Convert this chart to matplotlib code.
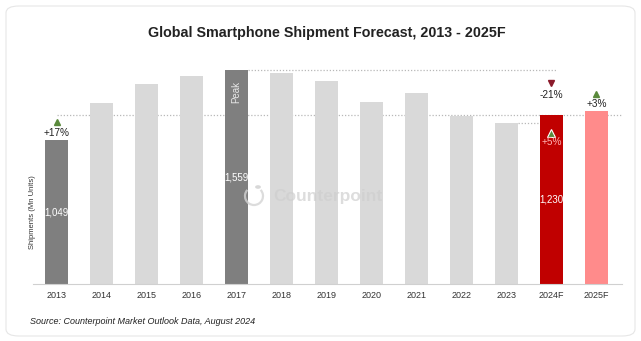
import matplotlib
matplotlib.use("Agg")
import matplotlib.pyplot as plt
from matplotlib.patches import FancyBboxPatch, Circle, Arc

plt.rcParams['font.family'] = ['Liberation Sans', 'DejaVu Sans']

years = ["2013", "2014", "2015", "2016", "2017", "2018", "2019", "2020",
         "2021", "2022", "2023", "2024F", "2025F"]
shipments = [1049, 1319, 1460, 1518, 1559, 1542, 1480, 1331, 1392, 1228, 1173, 1230, 1265]
value_labels = {0: "1,049", 4: "1,559", 11: "1,230"}
bar_colors = ["#7f7f7f", "#d9d9d9", "#d9d9d9", "#d9d9d9", "#7f7f7f", "#d9d9d9", "#d9d9d9",
              "#d9d9d9", "#d9d9d9", "#d9d9d9", "#d9d9d9", "#c00000", "#ff8b8b"]

W, H = 641, 341
fig = plt.figure(figsize=(W / 100, H / 100), dpi=100)
fig.patch.set_facecolor("white")

# rounded card behind everything
card = FancyBboxPatch((6 / W, 5 / H), 629 / W, 330 / H,
                      boxstyle="round,pad=0,rounding_size=0.02",
                      transform=fig.transFigure, facecolor="white",
                      edgecolor="#e6e6e6", linewidth=0.8, zorder=-5)
fig.add_artist(card)

ax = fig.add_axes([33 / W, (H - 284) / H, 589 / W, 224 / H])
ax.set_zorder(2)
ax.set_facecolor("none")
x = list(range(len(years)))
ax.bar(x, shipments, width=0.52, color=bar_colors, zorder=2)
ax.set_xlim(-0.527, 12.57)
ax.set_ylim(0, 1635)

for s in ["top", "right", "left"]:
    ax.spines[s].set_visible(False)
ax.spines["bottom"].set_color("#d0d0d0")
ax.spines["bottom"].set_linewidth(0.8)
ax.set_yticks([])
ax.set_xticks(x)
ax.set_xticklabels(years, fontsize=6.5, color="#333333")
ax.tick_params(axis="x", length=0, pad=5)

# reference dotted lines
dot = dict(color="#b8b8b8", linestyle=(0, (1, 1.5)), linewidth=0.9, zorder=1)
ax.plot([4 + 0.26, 11.1], [shipments[4]] * 2, **dot)
ax.plot([0, 12.57], [shipments[11]] * 2, **dot)
ax.plot([10 + 0.26, 11.0], [shipments[10]] * 2, **dot)

# value labels inside bars
for i, lab in value_labels.items():
    ax.text(i, shipments[i] / 2, lab, ha="center", va="center",
            fontsize=7, color="white", zorder=3)
ax.text(4, shipments[4] - 155, "Peak", rotation=90, ha="center", va="center",
        fontsize=7, color="#e8e8e8", zorder=3)

green = "#5a8a3c"
# growth markers
ax.plot(0, 1185, marker="^", color=green, markersize=5, zorder=3, clip_on=False)
ax.text(0, 1105, "+17%", ha="center", va="center", fontsize=7.2, color="#222222")

ax.plot(11, 1464, marker="v", color="#8b1a2b", markersize=5, zorder=3, clip_on=False)
ax.text(11, 1380, "-21%", ha="center", va="center", fontsize=7.2, color="#222222")

ax.plot(11, 1105, marker="^", color=green, markersize=6, markeredgecolor="white",
        markeredgewidth=0.8, zorder=4)
ax.text(11, 1040, "+5%", ha="center", va="center", fontsize=7.2, color="#ffb0b0", zorder=4)

ax.plot(12, 1385, marker="^", color=green, markersize=5, zorder=3, clip_on=False)
ax.text(12, 1312, "+3%", ha="center", va="center", fontsize=7.2, color="#222222")

# watermark
fig.add_artist(Arc((254 / W, (H - 196) / H), 18 / W, 18 / H, theta1=120, theta2=420,
                   transform=fig.transFigure, color="#d4d4d4", linewidth=1.6,
                   alpha=0.8, zorder=10))
fig.add_artist(Circle((258 / W, (H - 187) / H), 2.2 / W, transform=fig.transFigure,
                      color="#d4d4d4", alpha=0.8, zorder=10))
fig.text(328 / W, (H - 196) / H, "Counterpoint", ha="center", va="center",
         fontsize=12.5, fontweight="bold", color="#cfcfcf", alpha=0.7, zorder=10)

fig.text(327 / W, (H - 33) / H, "Global Smartphone Shipment Forecast, 2013 - 2025F",
         ha="center", va="center", fontsize=10.3, fontweight="bold", color="#222222")
fig.text(33 / W, (H - 212) / H, "Shipments (Mn Units)", rotation=90, ha="center",
         va="center", fontsize=5.5, color="#333333")
fig.text(30 / W, (H - 321) / H, "Source: Counterpoint Market Outlook Data, August 2024",
         ha="left", va="center", fontsize=6.5, style="italic", color="#222222")

fig.savefig("out.png", dpi=100, facecolor="white")
